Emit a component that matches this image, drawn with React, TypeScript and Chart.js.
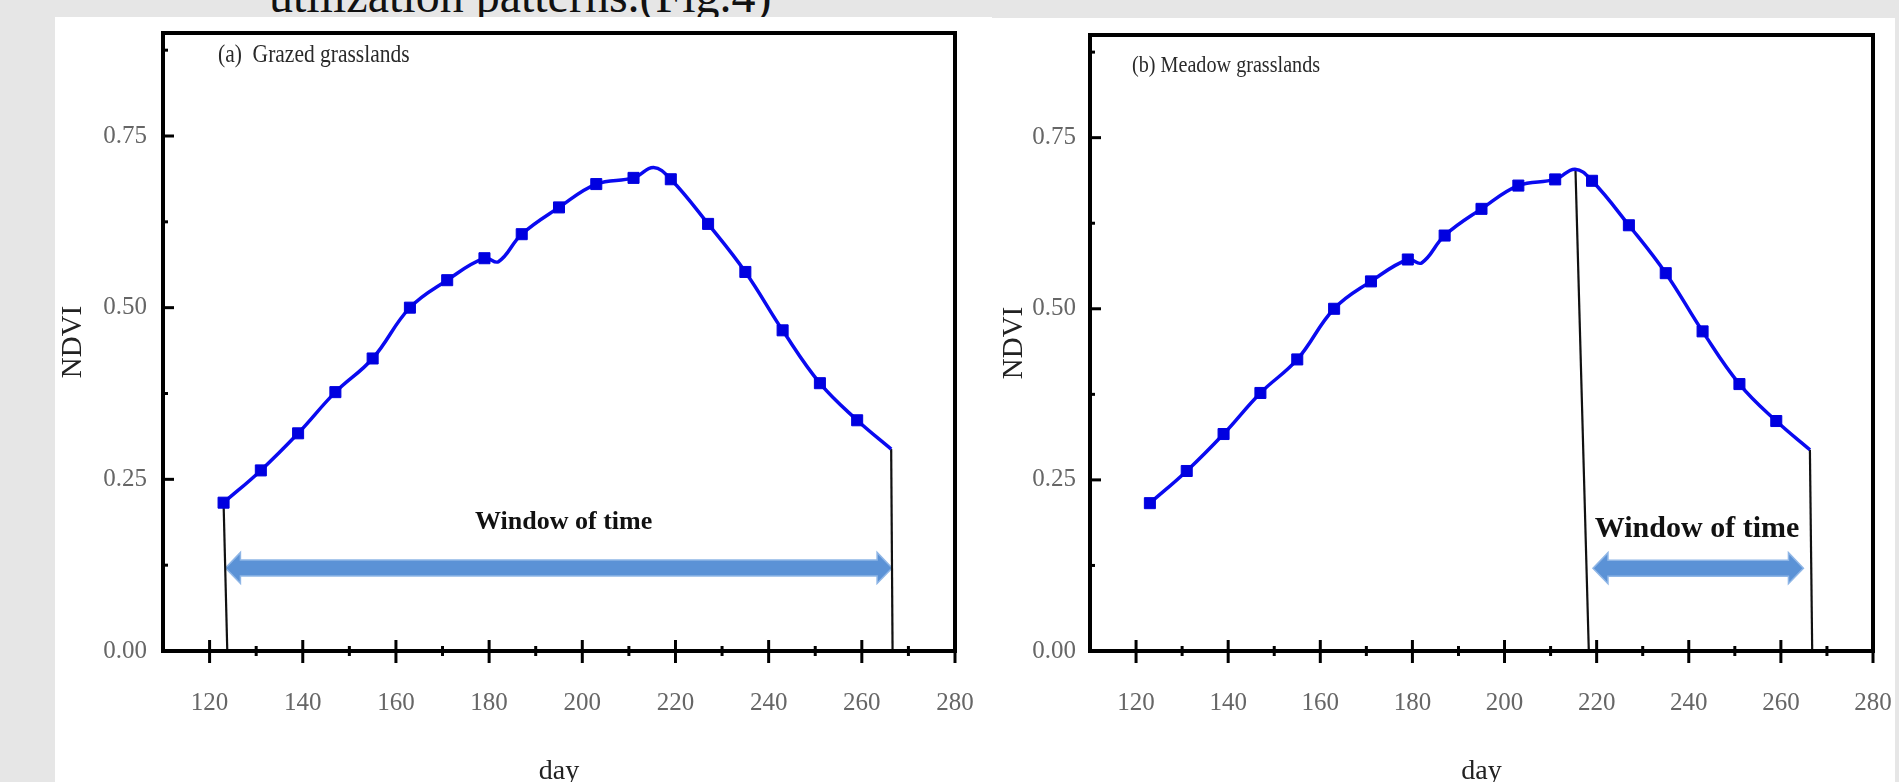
import { useEffect, useRef } from "react";
import { Chart, registerables } from "chart.js";

Chart.register(...registerables);

// ---- data ----
const sampleDays = [123, 131, 139, 147, 155, 163, 171, 179, 182, 187, 195, 203, 211, 215.3, 219, 227, 235, 243, 251, 259, 266.3];
const ndviValues = [0.216, 0.263, 0.317, 0.377, 0.426, 0.5, 0.54, 0.572, 0.567, 0.607, 0.646, 0.68, 0.689, 0.704, 0.687, 0.622, 0.552, 0.467, 0.39, 0.336, 0.294];
const hasMarker = [true, true, true, true, true, true, true, true, false, true, true, true, true, false, true, true, true, true, true, true, false];

const xTickValues = [120, 140, 160, 180, 200, 220, 240, 260, 280];
const xTickLabels = ["120", "140", "160", "180", "200", "220", "240", "260", "280"];
const xMinorTicks = [130, 150, 170, 190, 210, 230, 250, 270];
const yTickValues = [0, 0.25, 0.5, 0.75];
const yTickLabels = ["0.00", "0.25", "0.50", "0.75"];
const yMinorTicks = [0.125, 0.375, 0.625, 0.875];

const panelTitles = ["(a)  Grazed grasslands", "(b) Meadow grasslands"];
const windowText = "Window of time";
const xAxisTitle = "day";
const yAxisTitle = "NDVI";
const figureCaption = "utilization patterns.(Fig.4)";

const grazedStartDays = [123, 123.8];
const grazedStartNdvi = [0.216, 0];
const grazedEndDays = [266.3, 266.6];
const grazedEndNdvi = [0.294, 0];
const meadowStartDays = [215.4, 218.3];
const meadowStartNdvi = [0.704, 0];
const meadowEndDays = [266.3, 266.8];
const meadowEndNdvi = [0.294, 0];

const grazedArrowDays = [123.4, 266.5];
const meadowArrowDays = [219.2, 264.9];
const arrowNdvi = 0.121;
const grazedLabelAt = [196, 0.188];
const meadowLabelAt = [241.8, 0.178];

const SERIF = '"Liberation Serif", "Times New Roman", serif';

type PanelProps = {
  idx: number;
  left: number;
  top: number;
  width: number;
  height: number;
  axisW: number;
  axisH: number;
  padTop: number;
  padRight: number;
  yTickPad: number;
  titleDx: number;
  titleDy: number;
  titleSize: number;
  titleScaleX: number;
  windowFont: number;
  yTitleShift: number;
  startDays: number[];
  startNdvi: number[];
  endDays: number[];
  endNdvi: number[];
  arrowDays: number[];
  labelAt: number[];
};

function makeDecor(p: PanelProps) {
  return {
    id: "decor" + p.idx,
    beforeDatasetsDraw(chart: any) {
      const { ctx, scales } = chart;
      const x = scales.x;
      const y = scales.y;
      const x1 = x.getPixelForValue(p.arrowDays[0]);
      const x2 = x.getPixelForValue(p.arrowDays[1]);
      const yc = y.getPixelForValue(arrowNdvi);
      const hs = 8;
      const hh = 15.5;
      const hl = 15;
      ctx.save();
      ctx.beginPath();
      ctx.moveTo(x1, yc);
      ctx.lineTo(x1 + hl, yc - hh);
      ctx.lineTo(x1 + hl, yc - hs);
      ctx.lineTo(x2 - hl, yc - hs);
      ctx.lineTo(x2 - hl, yc - hh);
      ctx.lineTo(x2, yc);
      ctx.lineTo(x2 - hl, yc + hh);
      ctx.lineTo(x2 - hl, yc + hs);
      ctx.lineTo(x1 + hl, yc + hs);
      ctx.lineTo(x1 + hl, yc + hh);
      ctx.closePath();
      ctx.fillStyle = "#5b92d6";
      ctx.fill();
      ctx.lineWidth = 1.5;
      ctx.strokeStyle = "#8fb6e6";
      ctx.stroke();
      ctx.restore();
    },
    afterDraw(chart: any) {
      const { ctx, chartArea, scales } = chart;
      const x = scales.x;
      const y = scales.y;
      const { left, right, top, bottom } = chartArea;
      ctx.save();
      ctx.strokeStyle = "#000";
      ctx.lineCap = "butt";
      ctx.lineWidth = 3;
      for (const v of xTickValues) {
        const px = x.getPixelForValue(v);
        ctx.beginPath();
        ctx.moveTo(px, bottom - 11);
        ctx.lineTo(px, bottom + 12);
        ctx.stroke();
      }
      for (const v of xMinorTicks) {
        const px = x.getPixelForValue(v);
        ctx.beginPath();
        ctx.moveTo(px, bottom - 5);
        ctx.lineTo(px, bottom + 5);
        ctx.stroke();
      }
      for (const v of yTickValues) {
        if (v === 0) continue;
        const py = y.getPixelForValue(v);
        ctx.beginPath();
        ctx.moveTo(left, py);
        ctx.lineTo(left + 11, py);
        ctx.stroke();
      }
      for (const v of yMinorTicks) {
        const py = y.getPixelForValue(v);
        ctx.beginPath();
        ctx.moveTo(left, py);
        ctx.lineTo(left + 5, py);
        ctx.stroke();
      }
      ctx.lineWidth = 4;
      ctx.lineJoin = "miter";
      ctx.strokeRect(left, top, right - left, bottom - top);
      // panel title (slightly condensed serif, as in the figure)
      ctx.save();
      ctx.fillStyle = "#2a2a2a";
      ctx.font = `${p.titleSize}px ${SERIF}`;
      ctx.textAlign = "left";
      ctx.textBaseline = "middle";
      ctx.translate(left + p.titleDx, top + p.titleDy);
      ctx.scale(p.titleScaleX, 1);
      ctx.fillText(panelTitles[p.idx], 0, 0);
      ctx.restore();
      // window label
      ctx.fillStyle = "#111";
      ctx.font = `bold ${p.windowFont}px ${SERIF}`;
      ctx.textAlign = "center";
      ctx.textBaseline = "middle";
      ctx.fillText(windowText, x.getPixelForValue(p.labelAt[0]), y.getPixelForValue(p.labelAt[1]));
      ctx.restore();
    },
  };
}

function NdviPanel(p: PanelProps) {
  const ref = useRef<HTMLCanvasElement>(null);
  useEffect(() => {
    const canvas = ref.current;
    if (!canvas) return;
    const tickFont = { family: SERIF, size: 25 };
    const chart = new Chart(canvas, {
      type: "line",
      data: {
        datasets: [
          {
            data: sampleDays.map((d, i) => ({ x: d, y: ndviValues[i] })),
            borderColor: "#0a0af0",
            borderWidth: 3.5,
            tension: 0.4,
            pointStyle: "rect",
            pointRadius: (c: any) => (hasMarker[c.dataIndex] ? 7.8 : 0),
            pointHoverRadius: (c: any) => (hasMarker[c.dataIndex] ? 7.8 : 0),
            pointBackgroundColor: "#0000e0",
            pointBorderColor: "#0000e0",
            pointBorderWidth: 1,
            order: 1,
          } as any,
          {
            data: p.startDays.map((d, i) => ({ x: d, y: p.startNdvi[i] })),
            borderColor: "#111",
            borderWidth: 2.2,
            tension: 0,
            pointRadius: 0,
            order: 2,
          },
          {
            data: p.endDays.map((d, i) => ({ x: d, y: p.endNdvi[i] })),
            borderColor: "#111",
            borderWidth: 2.2,
            tension: 0,
            pointRadius: 0,
            order: 2,
          },
        ],
      },
      options: {
        animation: false,
        responsive: false,
        maintainAspectRatio: false,
        events: [],
        layout: { padding: { left: p.yTitleShift, top: p.padTop, right: p.padRight, bottom: 0 } },
        plugins: { legend: { display: false }, tooltip: { enabled: false } },
        scales: {
          x: {
            type: "linear",
            min: 110,
            max: 280,
            afterBuildTicks: (s: any) => {
              s.ticks = xTickValues.map((v) => ({ value: v }));
            },
            afterFit: (s: any) => {
              s.height = p.axisH;
              s.paddingLeft = 0;
              s.paddingRight = 0;
            },
            ticks: {
              autoSkip: false,
              maxRotation: 0,
              padding: 37,
              color: "#666",
              font: tickFont,
              callback: (v: any) => xTickLabels[xTickValues.indexOf(Number(v))] ?? "",
            },
            grid: { display: false, drawTicks: false },
            border: { display: false },
            title: {
              display: true,
              text: xAxisTitle,
              color: "#222",
              font: { family: SERIF, size: 28, lineHeight: 0.72 },
              padding: { top: 0, bottom: 0 },
            },
          },
          y: {
            type: "linear",
            min: 0,
            max: 0.9,
            afterBuildTicks: (s: any) => {
              s.ticks = yTickValues.map((v) => ({ value: v }));
            },
            afterFit: (s: any) => {
              s.width = p.axisW - p.yTitleShift;
              s.paddingTop = 0;
              s.paddingBottom = 0;
            },
            ticks: {
              padding: p.yTickPad,
              color: "#666",
              font: tickFont,
              callback: (v: any) => yTickLabels[yTickValues.indexOf(Number(v))] ?? "",
            },
            grid: { display: false, drawTicks: false },
            border: { display: false },
            title: {
              display: true,
              text: yAxisTitle,
              color: "#222",
              font: { family: SERIF, size: 29, lineHeight: 1 },
              padding: { top: 0, bottom: 0 },
            },
          },
        },
      } as any,
      plugins: [makeDecor(p)],
    });
    return () => chart.destroy();
  }, []);
  return (
    <canvas
      ref={ref}
      width={p.width}
      height={p.height}
      style={{ position: "absolute", left: p.left, top: p.top, width: p.width, height: p.height, zIndex: 2 }}
    />
  );
}

export default function App() {
  return (
    <div
      style={{
        position: "fixed",
        left: 0,
        top: 0,
        width: 1899,
        height: 782,
        background: "#e6e6e6",
        overflow: "hidden",
      }}
    >
      <div
        style={{
          position: "absolute",
          left: 269,
          top: -28,
          fontFamily: SERIF,
          fontSize: 48,
          lineHeight: "48px",
          color: "#111",
          whiteSpace: "nowrap",
          zIndex: 0,
        }}
      >
        {figureCaption}
      </div>
      <div style={{ position: "absolute", left: 55, top: 17, width: 937, height: 765, background: "#fff", zIndex: 1 }} />
      <div style={{ position: "absolute", left: 992, top: 18, width: 903, height: 764, background: "#fff", zIndex: 1 }} />
      <NdviPanel
        idx={0}
        left={55}
        top={16}
        width={937}
        height={766}
        axisW={108}
        axisH={131}
        padTop={17}
        padRight={37}
        yTickPad={16}
        yTitleShift={4}
        titleDx={55}
        titleDy={22}
        titleSize={25}
        titleScaleX={0.86}
        windowFont={26}
        startDays={grazedStartDays}
        startNdvi={grazedStartNdvi}
        endDays={grazedEndDays}
        endNdvi={grazedEndNdvi}
        arrowDays={grazedArrowDays}
        labelAt={grazedLabelAt}
      />
      <NdviPanel
        idx={1}
        left={992}
        top={16}
        width={903}
        height={766}
        axisW={98}
        axisH={131}
        padTop={19}
        padRight={22}
        yTickPad={14}
        yTitleShift={8}
        titleDx={42}
        titleDy={31}
        titleSize={24}
        titleScaleX={0.84}
        windowFont={30}
        startDays={meadowStartDays}
        startNdvi={meadowStartNdvi}
        endDays={meadowEndDays}
        endNdvi={meadowEndNdvi}
        arrowDays={meadowArrowDays}
        labelAt={meadowLabelAt}
      />
    </div>
  );
}
